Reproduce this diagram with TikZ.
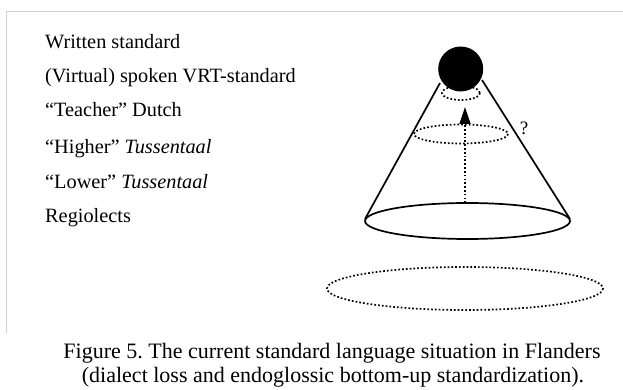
\documentclass[tikz,border=0pt]{standalone}
\usepackage{fontspec}
\setmainfont{Liberation Serif}
\usetikzlibrary{arrows.meta}
\frenchspacing
\begin{document}
\begin{tikzpicture}[x=1pt,y=-1pt,
  lbl/.style={anchor=base west,inner sep=0pt,font=\fontsize{20.3}{24}\selectfont},
  captiontext/.style={anchor=base,inner sep=0pt,font=\fontsize{22}{26}\selectfont},
  solidline/.style={line width=1.7pt},
  dotline/.style={line width=1.7pt,dash pattern=on 1.7pt off 2.1pt,line cap=butt}]
\useasboundingbox (0,0) rectangle (623,390);
% frame
\draw[line width=1pt,black!18] (6,333) -- (6,12) -- (623,12);
% levels
\node[lbl] (w) at (45,49) {Written standard};
\node[lbl] (v) at (45,83) {(Virtual) spoken VRT-standard};
\node[lbl] (t) at (45,117) {“Teacher” Dutch};
\node[lbl] (h) at (45,154) {“Higher” \textit{Tussentaal}};
\node[lbl] (l) at (45,189) {“Lower” \textit{Tussentaal}};
\node[lbl] (r) at (45,222) {Regiolects};
% cone
\coordinate (apexL) at (440,83);
\coordinate (apexR) at (482,80);
\coordinate (baseL) at (365,219);
\coordinate (baseR) at (570,219);
\draw[solidline] (apexL) -- (baseL);
\draw[solidline] (apexR) -- (baseR);
\draw[solidline] (467.5,221) ellipse [x radius=102.5,y radius=18];
% level rings
\draw[dotline] (461,134) ellipse [x radius=47,y radius=9.5];
\draw[dotline] (461,93) ellipse [x radius=19,y radius=7];
% written standard ball
\fill (460.7,69) circle [radius=22.5];
% upward shift
\coordinate (up0) at (465,203);
\coordinate (up1) at (465,107);
\draw[dotline,-{Triangle[width=11pt,length=17pt]}] (up0) -- (up1);
\node[inner sep=0pt,font=\fontsize{19}{22}\selectfont] (q) at (524,128) {?};
% dialects
\draw[dotline] (465,288.5) ellipse [x radius=138,y radius=21.5];
% caption
\node[captiontext] (c1) at (332,358) {Figure 5. The current standard language situation in Flanders};
\node[captiontext] (c2) at (333,382) {(dialect loss and endoglossic bottom-up standardization).};
\end{tikzpicture}
\end{document}
